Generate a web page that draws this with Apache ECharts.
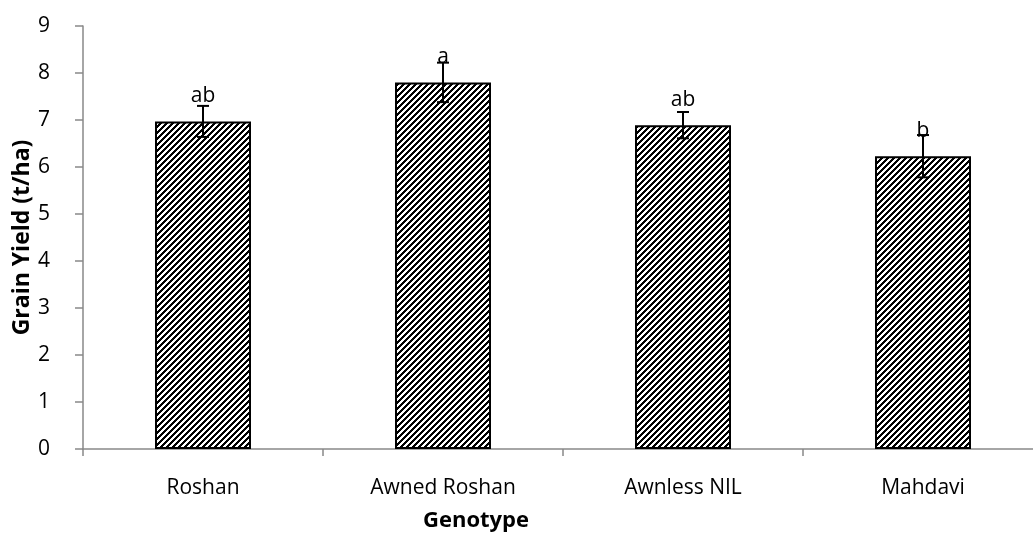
<!DOCTYPE html>
<html>
<head>
<meta charset="utf-8">
<script src="https://cdn.jsdelivr.net/npm/echarts@6/dist/echarts.min.js"></script>
<style>
  html, body { margin: 0; padding: 0; background: #fff; }
  #chart { width: 1033px; height: 536px; }
</style>
</head>
<body>
<div id="chart"></div>
<script>
// Grain yield per genotype, with standard error and significance letters
const genotypes = ['Roshan', 'Awned Roshan', 'Awnless NIL', 'Mahdavi'];
const yieldMeans = [6.97, 7.80, 6.89, 6.23];
const yieldErrors = [0.33, 0.42, 0.28, 0.45];
const groupLetters = ['ab', 'a', 'ab', 'b'];
const yTicks = [0, 1, 2, 3, 4, 5, 6, 7, 8, 9];

// Black/white upward-diagonal hatch used as bar fill
function makeHatch() {
  const size = 6;
  const c = document.createElement('canvas');
  c.width = size; c.height = size;
  const ctx = c.getContext('2d');
  ctx.fillStyle = '#fff';
  ctx.fillRect(0, 0, size, size);
  ctx.fillStyle = '#000';
  for (let y = 0; y < size; y++) {
    for (let x = 0; x < size; x++) {
      if ((x + y) % size < 3) ctx.fillRect(x, y, 1, 1);
    }
  }
  return c;
}

const font = '"Open Sans", "Liberation Sans", sans-serif';
const chart = echarts.init(document.getElementById('chart'), null, { renderer: 'canvas' });

const option = {
  animation: false,
  grid: { left: 83, top: 26, width: 960, height: 423, containLabel: false, outerBoundsMode: 'none' },
  xAxis: {
    type: 'category',
    data: genotypes,
    axisLine: { lineStyle: { color: '#898989', width: 1.5 } },
    axisTick: { show: true, alignWithLabel: false, length: 7, lineStyle: { color: '#898989', width: 1.5 } },
    axisLabel: { color: '#000', fontSize: 21, fontFamily: font, margin: 29 }
  },
  yAxis: {
    type: 'value',
    min: yTicks[0],
    max: yTicks[yTicks.length - 1],
    interval: 1,
    name: 'Grain Yield (t/ha)',
    nameLocation: 'middle',
    nameGap: 49,
    nameMoveOverlap: false,
    nameTextStyle: { color: '#000', fontSize: 23, fontWeight: 'bold', fontFamily: font },
    axisLine: { show: true, lineStyle: { color: '#898989', width: 1.5 } },
    axisTick: { show: true, length: 8, lineStyle: { color: '#898989', width: 1.5 } },
    axisLabel: { color: '#000', fontSize: 21, fontFamily: font, margin: 33 },
    splitLine: { show: false }
  },
  graphic: [{
    type: 'text',
    left: 423,
    top: 510,
    style: { text: 'Genotype', fill: '#000', font: 'bold 22px ' + font }
  }],
  series: [
    {
      type: 'bar',
      data: yieldMeans,
      barWidth: '40%',
      itemStyle: {
        color: { image: makeHatch(), repeat: 'repeat' },
        borderColor: '#000',
        borderWidth: 2
      },
      label: {
        show: true,
        position: 'top',
        distance: 15,
        color: '#000',
        fontSize: 21,
        fontFamily: font,
        formatter: p => groupLetters[p.dataIndex]
      },
      z: 2
    },
    {
      type: 'custom',
      data: yieldMeans.map((m, i) => [i, m - yieldErrors[i], m + yieldErrors[i]]),
      renderItem: function (params, api) {
        const lo = api.coord([api.value(0), api.value(1)]);
        const hi = api.coord([api.value(0), api.value(2)]);
        const half = 6;
        const st = { stroke: '#000', lineWidth: 2 };
        return {
          type: 'group',
          children: [
            { type: 'line', shape: { x1: hi[0], y1: hi[1], x2: lo[0], y2: lo[1] }, style: st },
            { type: 'line', shape: { x1: hi[0] - half, y1: hi[1], x2: hi[0] + half, y2: hi[1] }, style: st },
            { type: 'line', shape: { x1: lo[0] - half, y1: lo[1], x2: lo[0] + half, y2: lo[1] }, style: st }
          ]
        };
      },
      z: 3
    }
  ]
};

chart.setOption(option);
</script>
</body>
</html>
